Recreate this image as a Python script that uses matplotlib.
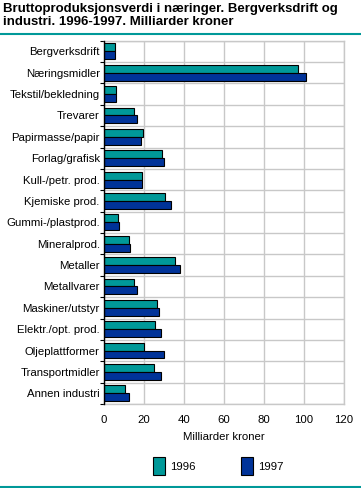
#!/usr/bin/env python3
"""Bruttoproduksjonsverdi i naeringer, 1996-1997."""

import numpy as np
import matplotlib.pyplot as plt
from matplotlib.lines import Line2D
from matplotlib.patches import Patch

# =============================================================================
# Data (milliarder kroner)
# =============================================================================
categories = ['Bergverksdrift', 'Næringsmidler', 'Tekstil/bekledning', 'Trevarer',
              'Papirmasse/papir', 'Forlag/grafisk', 'Kull-/petr. prod.',
              'Kjemiske prod.', 'Gummi-/plastprod.', 'Mineralprod.', 'Metaller',
              'Metallvarer', 'Maskiner/utstyr', 'Elektr./opt. prod.',
              'Oljeplattformer', 'Transportmidler', 'Annen industri']
v1996 = [5.3, 97.0, 5.8, 15.0, 19.3, 28.8, 18.8, 30.5, 6.8, 12.3, 35.5,
         15.0, 26.3, 25.3, 19.8, 24.8, 10.3]
v1997 = [5.3, 100.8, 5.8, 16.5, 18.5, 30.0, 19.0, 33.5, 7.3, 13.0, 38.0,
         16.5, 27.5, 28.5, 30.0, 28.5, 12.5]
series_labels = ['1996', '1997']
xticks = [0, 20, 40, 60, 80, 100, 120]

C96 = '#009999'
C97 = '#003399'
TEAL_LINE = '#009999'
GRID = '#c8c8c8'

plt.rcParams['font.family'] = ['Liberation Sans', 'DejaVu Sans']
FS = 8.2

fig = plt.figure(figsize=(3.61, 4.88), dpi=100)
ax = fig.add_axes([104 / 361, 1 - 404 / 488, 240 / 361, (404 - 40.7) / 488])

n = len(categories)
y = np.arange(n)
h = 0.37
ax.barh(y - h / 2, v1996, height=h, color=C96, edgecolor='black', linewidth=0.8, zorder=3)
ax.barh(y + h / 2, v1997, height=h, color=C97, edgecolor='black', linewidth=0.8, zorder=3)

ax.set_ylim(n - 0.5, -0.5)
ax.set_xlim(0, 120)
ax.set_yticks(y)
ax.set_yticklabels(categories, fontsize=FS)
ax.set_yticks(np.arange(n + 1) - 0.5, minor=True)
ax.tick_params(axis='y', which='major', length=0, pad=3)
ax.tick_params(axis='y', which='minor', length=3, width=0.8, color='black')
ax.set_xticks(xticks)
ax.set_xticklabels([str(t) for t in xticks], fontsize=FS)
ax.tick_params(axis='x', length=0, pad=8)
ax.grid(True, axis='x', color=GRID, linewidth=1, zorder=0)
ax.grid(True, axis='y', which='minor', color=GRID, linewidth=1, zorder=0)
for s in ['top', 'right', 'bottom']:
    ax.spines[s].set_color(GRID)
    ax.spines[s].set_linewidth(1)
ax.spines['left'].set_color('black')
ax.spines['left'].set_linewidth(1)
ax.spines['left'].set_zorder(4)
ax.set_xlabel('Milliarder kroner', fontsize=FS, labelpad=5)

# title and rules
fig.text(3 / 361, 1 - 3 / 488, 'Bruttoproduksjonsverdi i næringer. Bergverksdrift og\n'
         'industri. 1996-1997. Milliarder kroner', ha='left', va='top',
         fontsize=9.5, fontweight='bold', linespacing=1.12)
fig.add_artist(Line2D([0, 1], [1 - 33.5 / 488] * 2, color=TEAL_LINE, linewidth=1.5))
fig.add_artist(Line2D([0, 1], [1 - 487 / 488] * 2, color=TEAL_LINE, linewidth=1.5))

handles = [Patch(facecolor=C96, edgecolor='black', linewidth=0.8),
           Patch(facecolor=C97, edgecolor='black', linewidth=0.8)]
fig.legend(handles, series_labels, loc='center', bbox_to_anchor=(218 / 361, 1 - 466 / 488),
           ncol=2, frameon=False, fontsize=FS, handlelength=1.1, handleheight=2.1,
           handletextpad=0.4, columnspacing=4.0)

fig.savefig('out.png', dpi=100)
